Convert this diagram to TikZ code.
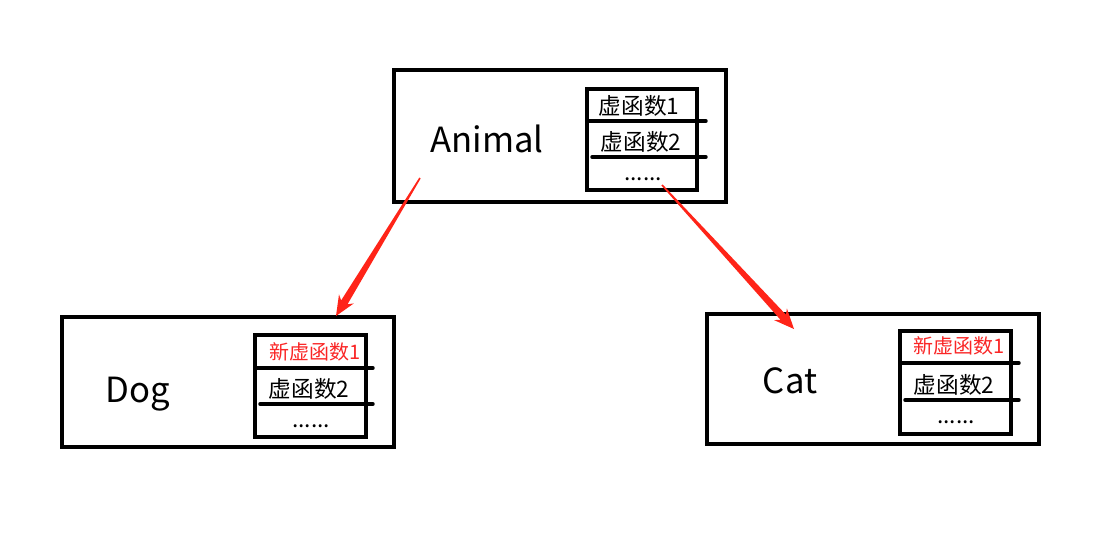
\documentclass[tikz,border=0pt]{standalone}
\usepackage{fontspec}
\setmainfont{Noto Sans CJK SC}
\usetikzlibrary{calc}
\definecolor{ArrowRed}{RGB}{255,36,24}
\definecolor{TextRed}{RGB}{250,38,38}
\tikzset{
	outerbox/.style={line width=3.7pt},
	innerbox/.style={line width=3pt},
	slot/.style={line width=2.6pt, line cap=round},
	classname/.style={anchor=base, inner sep=0pt, font=\fontsize{26}{26}\selectfont},
	fn/.style={anchor=base, inner sep=0pt, font=\fontsize{17}{17}\selectfont},
	newfn/.style={fn, text=TextRed, font=\fontsize{15}{15}\selectfont},
}
% tapered red arrow: #1 tail, #2 tip
\newcommand{\taperarrow}[2]{%
	\coordinate (#2-wing) at ($(#2)!15pt!(#1)$);
	\coordinate (#2-join) at ($(#2)!12pt!(#1)$);
	\fill[ArrowRed] ($(#1)!0.6pt!90:(#2)$) -- ($(#2-join)!2.8pt!90:(#2)$)
		-- ($(#2-wing)!6.5pt!90:(#2)$) -- (#2)
		-- ($(#2-wing)!6.5pt!-90:(#2)$) -- ($(#2-join)!2.8pt!-90:(#2)$)
		-- ($(#1)!0.6pt!-90:(#2)$) -- cycle;
}
\begin{document}
\begin{tikzpicture}[x=0.75pt, y=-0.75pt]
	\useasboundingbox[fill=white] (0,0) rectangle (1120,542);

	% Animal
	\draw[outerbox] (394,70) rectangle (726,202);
	\draw[innerbox] (587,89) rectangle (697,190);
	\draw[slot] (587,121) -- (706,121);
	\draw[slot] (592,157) -- (706,157);
	\node[classname] (animal) at (487,152) {Animal};
	\node[fn] (animal-f1) at (639,114) {虚函数1};
	\node[fn] (animal-f2) at (641,150) {虚函数2};
	\node[fn] (animal-more) at (643,180) {......};

	% Dog
	\draw[outerbox] (62,317) rectangle (394,447);
	\draw[innerbox] (255,335) rectangle (366,437);
	\draw[slot] (255,368) -- (373,368);
	\draw[slot] (260,404) -- (373,404);
	\node[classname] (dog) at (138,402) {Dog};
	\node[newfn] (dog-f1) at (315,359) {新虚函数1};
	\node[fn] (dog-f2) at (309,397) {虚函数2};
	\node[fn] (dog-more) at (311,427) {......};

	% Cat
	\draw[outerbox] (707,314) rectangle (1039,444);
	\draw[innerbox] (900,331) rectangle (1011,434);
	\draw[slot] (900,363) -- (1019,363);
	\draw[slot] (905,400) -- (1019,400);
	\node[classname] (cat) at (790,393) {Cat};
	\node[newfn] (cat-f1) at (959,353) {新虚函数1};
	\node[fn] (cat-f2) at (954,393) {虚函数2};
	\node[fn] (cat-more) at (956,423) {......};

	% inheritance arrows
	\coordinate (animal-l) at (420,178);
	\coordinate (dog-in) at (336,316);
	\coordinate (animal-r) at (662,185);
	\coordinate (cat-in) at (794,329);
	\taperarrow{animal-l}{dog-in}
	\taperarrow{animal-r}{cat-in}
\end{tikzpicture}
\end{document}
